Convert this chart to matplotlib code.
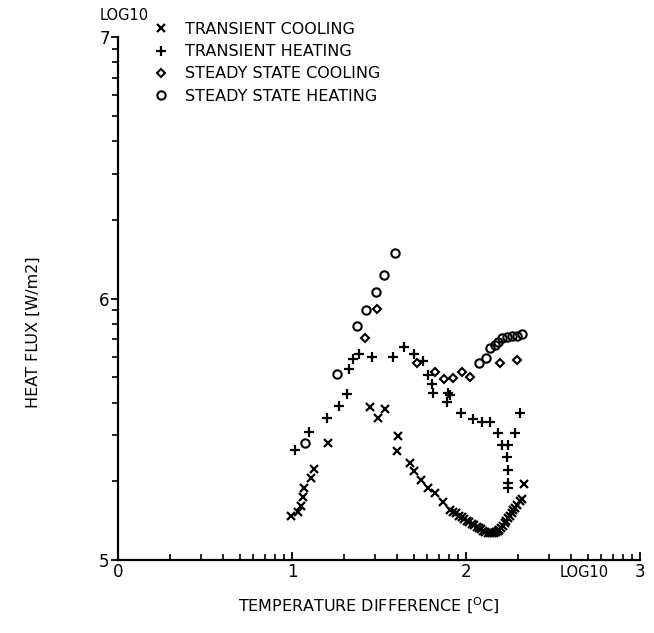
import numpy as np
import matplotlib
matplotlib.use("Agg")
import matplotlib.pyplot as plt
from matplotlib.ticker import FixedLocator, NullFormatter

# ---- data (log10 units) ----
tc_x = [0.992, 1.036, 1.050, 1.061, 1.069, 1.107, 1.126, 1.209, 1.448, 1.534, 1.496,
        1.607, 1.602, 1.678, 1.701, 1.744, 1.784, 1.822, 1.866, 1.908, 1.925, 1.943,
        1.960, 1.975, 1.990, 2.004, 2.018, 2.033, 2.047, 2.061, 2.075, 2.088, 2.100,
        2.112, 2.125, 2.138, 2.150, 2.162, 2.172, 2.182, 2.192, 2.202, 2.212, 2.222,
        2.232, 2.242, 2.252, 2.262, 2.272, 2.282, 2.295, 2.310, 2.322, 2.333]
tc_y = [5.168, 5.185, 5.206, 5.240, 5.274, 5.312, 5.347, 5.449, 5.586, 5.576, 5.544,
        5.474, 5.418, 5.372, 5.341, 5.305, 5.274, 5.257, 5.223, 5.191, 5.185, 5.178,
        5.170, 5.163, 5.157, 5.151, 5.145, 5.139, 5.133, 5.128, 5.122, 5.117, 5.112,
        5.108, 5.105, 5.103, 5.102, 5.103, 5.106, 5.110, 5.116, 5.123, 5.131, 5.140,
        5.150, 5.160, 5.170, 5.180, 5.190, 5.200, 5.212, 5.225, 5.235, 5.290]

th_x = [1.017, 1.099, 1.199, 1.270, 1.314, 1.328, 1.349, 1.387, 1.458, 1.579, 1.644,
        1.701, 1.755, 1.783, 1.806, 1.808, 1.898, 1.908, 1.889, 1.970, 2.042, 2.090,
        2.138, 2.186, 2.282, 2.205, 2.243, 2.234, 2.243, 2.243, 2.243, 2.310]
th_y = [5.421, 5.491, 5.542, 5.589, 5.635, 5.730, 5.769, 5.788, 5.775, 5.775, 5.813,
        5.788, 5.762, 5.707, 5.673, 5.637, 5.637, 5.631, 5.605, 5.561, 5.538, 5.529,
        5.529, 5.484, 5.484, 5.440, 5.440, 5.395, 5.344, 5.296, 5.274, 5.562]

sc_x = [1.420, 1.490, 1.717, 1.822, 1.875, 1.927, 1.979, 2.025, 2.195, 2.294]
sc_y = [5.850, 5.959, 5.755, 5.718, 5.691, 5.697, 5.718, 5.700, 5.755, 5.763]

sh_x = [1.077, 1.257, 1.375, 1.424, 1.481, 1.529, 1.594, 2.075, 2.115, 2.138, 2.167,
        2.184, 2.207, 2.236, 2.264, 2.293, 2.322]
sh_y = [5.449, 5.710, 5.895, 5.956, 6.026, 6.090, 6.175, 5.753, 5.772, 5.811, 5.822,
        5.835, 5.849, 5.853, 5.857, 5.857, 5.864]

labels = ["TRANSIENT COOLING", "TRANSIENT HEATING",
          "STEADY STATE COOLING", "STEADY STATE HEATING"]

fig = plt.figure(figsize=(6.54, 6.33), dpi=100)
ax = fig.add_axes([118/654, 1-560/633, (640-118)/654, (560-37)/633])

k = "black"
h1, = ax.plot(tc_x, tc_y, 'x', color=k, ms=6, mew=1.6, linestyle='none')
h2, = ax.plot(th_x, th_y, '+', color=k, ms=6.5, mew=1.6, linestyle='none')
h3, = ax.plot(sc_x, sc_y, 'D', mfc='none', mec=k, ms=4, mew=1.5, linestyle='none')
h4, = ax.plot(sh_x, sh_y, 'o', mfc='none', mec=k, ms=6, mew=1.5, linestyle='none')

ax.set_xlim(0, 3)
ax.set_ylim(5, 7)
for s in ['top', 'right']:
    ax.spines[s].set_visible(False)
for s in ['left', 'bottom']:
    ax.spines[s].set_linewidth(1.6)

minor = np.log10(np.arange(2, 10))
ax.xaxis.set_major_locator(FixedLocator([0, 1, 2, 3]))
ax.xaxis.set_minor_locator(FixedLocator(np.concatenate([minor + d for d in range(3)])))
ax.yaxis.set_major_locator(FixedLocator([5, 6, 7]))
ax.yaxis.set_minor_locator(FixedLocator(np.concatenate([minor + d for d in (5, 6)])))
ax.xaxis.set_minor_formatter(NullFormatter())
ax.yaxis.set_minor_formatter(NullFormatter())
ax.tick_params(axis='x', which='major', direction='in', length=6, width=1.3,
               labelsize=12, pad=2)
ax.tick_params(axis='x', which='minor', direction='in', length=4, width=1.2)
ax.tick_params(axis='y', which='major', direction='out', length=5, width=1.3,
               labelsize=12, pad=1)
ax.tick_params(axis='y', which='minor', direction='out', length=4, width=1.2)

fs = 11.5
fig.text(100/654, 1-20/633, "LOG10", fontsize=10.5, ha='left', va='baseline')
fig.text(609/654, 1-577/633, "LOG10", fontsize=10.5, ha='right', va='baseline')
fig.text(369/654, 1-612/633, "TEMPERATURE DIFFERENCE [$^{\\mathrm{O}}$C]",
         fontsize=fs, ha='center', va='baseline')
fig.text(33/654, 1-332/633, "HEAT FLUX [W/m2]", fontsize=fs, rotation=90,
         ha='center', va='center')

leg = ax.legend([h1, h2, h3, h4], labels, loc='upper left',
                bbox_to_anchor=(155/654, 1-22/633), bbox_transform=fig.transFigure,
                frameon=False, fontsize=fs, handlelength=0.8, handletextpad=1.1,
                labelspacing=0.45, borderaxespad=0, borderpad=0)

fig.savefig("out.png", dpi=100)
